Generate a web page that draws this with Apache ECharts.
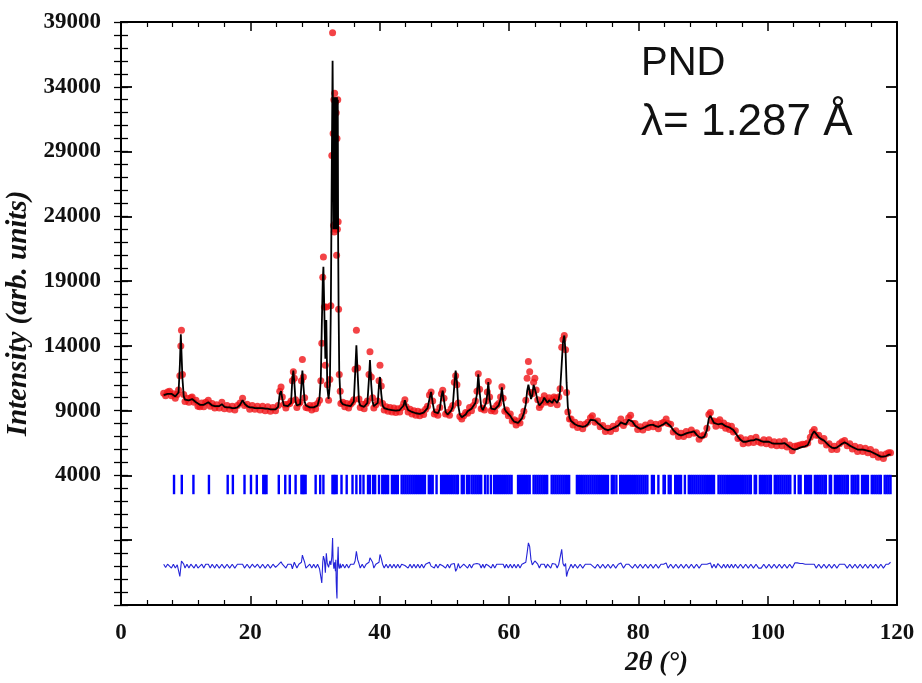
<!DOCTYPE html>
<html><head><meta charset="utf-8">
<script src="https://cdn.jsdelivr.net/npm/echarts@6/dist/echarts.min.js"></script>
<style>html,body{margin:0;padding:0;background:#fff}#c{width:922px;height:683px}</style>
</head><body><div id="c"></div>
<script>
const twoTheta = [
6.6, 6.9, 7.2, 7.5, 7.8, 8.1, 8.4, 8.7, 8.9, 9.1,
9.25, 9.35, 9.5, 9.7, 9.9, 10.2, 10.5, 10.8, 11.0, 11.3,
11.6, 11.9, 12.2, 12.5, 12.8, 13.1, 13.5, 13.8, 14.1, 14.5,
14.8, 15.2, 15.6, 16.0, 16.4, 16.8, 17.2, 17.6, 18.0, 18.4,
18.8, 19.1, 19.5, 19.9, 20.3, 20.7, 21.1, 21.5, 21.9, 22.3,
22.7, 23.1, 23.5, 23.9, 24.3, 24.55, 24.75, 24.95, 25.2, 25.5,
25.8, 26.1, 26.3, 26.5, 26.65, 26.8, 27.0, 27.2, 27.5, 27.7,
27.9, 28.05, 28.2, 28.4, 28.6, 28.9, 29.2, 29.5, 29.8, 30.1,
30.4, 30.7, 30.9, 31.05, 31.2, 31.3, 31.45, 31.6, 31.75, 31.9,
32.1, 32.3, 32.45, 32.6, 32.72, 32.8, 32.86, 32.92, 32.98, 33.04,
33.1, 33.16, 33.22, 33.28, 33.34, 33.4, 33.46, 33.52, 33.58, 33.65,
33.75, 33.9, 34.0, 34.3, 34.6, 34.9, 35.2, 35.5, 35.8, 36.0,
36.2, 36.4, 36.6, 36.8, 37.0, 37.3, 37.6, 37.9, 38.1, 38.35,
38.5, 38.7, 38.9, 39.1, 39.4, 39.7, 39.9, 40.05, 40.25, 40.45,
40.7, 41.0, 41.3, 41.6, 41.9, 42.2, 42.5, 42.8, 43.1, 43.4,
43.7, 43.9, 44.1, 44.4, 44.7, 45.0, 45.3, 45.6, 45.9, 46.2,
46.5, 46.8, 47.1, 47.4, 47.7, 47.95, 48.2, 48.45, 48.7, 49.0,
49.3, 49.55, 49.75, 49.95, 50.2, 50.5, 50.8, 51.05, 51.3, 51.55,
51.75, 51.95, 52.15, 52.4, 52.7, 53.0, 53.3, 53.6, 53.9, 54.2,
54.5, 54.8, 55.05, 55.25, 55.45, 55.7, 55.95, 56.2, 56.45, 56.65,
56.8, 57.0, 57.25, 57.5, 57.8, 58.1, 58.4, 58.7, 58.9, 59.1,
59.35, 59.6, 59.9, 60.2, 60.5, 60.8, 61.1, 61.4, 61.7, 62.0,
62.3, 62.6, 62.8, 63.0, 63.2, 63.4, 63.6, 63.8, 64.0, 64.2,
64.45, 64.7, 64.95, 65.2, 65.45, 65.7, 65.95, 66.2, 66.45, 66.7,
66.95, 67.2, 67.45, 67.7, 67.9, 68.15, 68.35, 68.55, 68.75, 68.9,
69.1, 69.35, 69.6, 69.9, 70.2, 70.6, 71.0, 71.4, 71.8, 72.2,
72.6, 72.9, 73.3, 73.7, 74.1, 74.5, 74.9, 75.3, 75.7, 76.1,
76.5, 76.9, 77.3, 77.7, 78.1, 78.5, 78.8, 79.1, 79.5, 79.9,
80.3, 80.7, 81.1, 81.5, 81.9, 82.3, 82.7, 83.1, 83.5, 83.9,
84.3, 84.6, 85.0, 85.4, 85.8, 86.2, 86.6, 87.0, 87.4, 87.8,
88.2, 88.6, 89.0, 89.4, 89.8, 90.2, 90.6, 90.9, 91.15, 91.4,
91.7, 92.0, 92.3, 92.6, 92.9, 93.2, 93.5, 93.8, 94.1, 94.4,
94.7, 95.0, 95.4, 95.8, 96.2, 96.6, 97.0, 97.4, 97.8, 98.2,
98.6, 99.0, 99.4, 99.8, 100.2, 100.6, 101.0, 101.4, 101.8, 102.2,
102.6, 103.0, 103.4, 103.8, 104.2, 104.6, 105.0, 105.4, 105.8, 106.2,
106.6, 106.9, 107.2, 107.5, 107.9, 108.3, 108.7, 109.1, 109.5, 109.9,
110.3, 110.7, 111.1, 111.5, 111.9, 112.3, 112.7, 113.1, 113.5, 113.9,
114.3, 114.7, 115.1, 115.5, 115.9, 116.3, 116.7, 117.1, 117.5, 117.9,
118.3, 118.7, 119.0
];
const yCalc = [
10200, 10250, 10300, 10350, 10300, 10150, 10100, 10150, 10400, 12500,
14900, 14800, 11500, 10100, 9850, 9800, 9800, 9850, 9900, 9800,
9650, 9500, 9450, 9450, 9450, 9500, 9650, 9500, 9400, 9350,
9300, 9350, 9500, 9300, 9250, 9250, 9200, 9200, 9250, 9450,
9800, 9550, 9350, 9250, 9250, 9200, 9200, 9200, 9200, 9150,
9150, 9100, 9100, 9100, 9300, 10300, 10500, 9900, 9400, 9350,
9350, 9400, 9600, 11500, 12100, 11200, 9700, 9400, 9400, 9500,
11000, 12100, 11000, 9700, 9400, 9350, 9250, 9200, 9250, 9300,
9400, 10000, 11500, 15500, 19000, 20100, 16500, 13000, 16000, 10800,
9900, 11000, 17000, 28000, 36000, 30000, 23000, 33200, 23000, 33200,
23000, 33200, 23000, 33200, 23000, 33200, 23000, 33000, 22000, 16800,
12000, 10300, 9700, 9500, 9450, 9400, 9350, 9350, 9500, 9700,
11800, 14050, 11800, 9700, 9400, 9350, 9300, 9400, 9600, 11500,
12900, 11000, 9700, 9350, 9300, 9600, 11000, 11600, 10300, 9400,
9200, 9150, 9100, 9100, 9050, 9050, 9000, 9000, 9050, 9100,
9400, 9800, 9400, 9050, 8950, 8900, 8850, 8800, 8800, 8750,
8750, 8850, 8950, 9200, 9900, 10450, 9600, 8900, 8750, 8800,
9100, 10100, 10550, 9800, 8900, 8700, 8800, 9000, 9300, 11000,
12100, 11200, 9400, 8700, 8500, 8450, 8700, 8950, 9100, 9150,
9250, 9600, 10300, 11800, 10500, 9300, 9050, 9200, 9600, 10300,
11200, 9900, 9150, 9000, 9100, 9250, 9400, 9900, 10800, 9800,
9100, 8900, 8750, 8600, 8350, 8150, 8050, 8050, 8200, 8400,
8800, 9500, 10500, 11000, 10500, 9900, 10200, 11000, 11100, 10300,
9700, 9400, 9300, 9700, 10000, 9800, 9600, 9800, 9700, 9600,
9900, 9800, 9600, 9900, 10500, 12600, 14300, 14800, 13500, 11200,
9300, 8500, 8200, 8050, 7950, 7850, 7800, 7750, 7800, 7950,
8300, 8450, 8250, 8050, 7900, 7700, 7550, 7500, 7550, 7650,
7750, 7850, 8100, 8000, 7950, 8300, 8450, 8150, 7850, 7700,
7600, 7650, 7750, 7850, 7900, 7900, 7800, 7750, 7850, 7950,
8100, 8150, 7800, 7500, 7300, 7150, 7100, 7150, 7250, 7300,
7350, 7400, 7150, 6950, 6900, 7000, 7500, 8400, 8600, 8350,
8050, 7950, 7950, 8050, 8000, 7900, 7800, 7700, 7700, 7650,
7500, 7300, 7000, 6750, 6600, 6600, 6650, 6700, 6700, 6800,
6750, 6650, 6600, 6600, 6600, 6500, 6450, 6450, 6450, 6450,
6500, 6350, 6200, 6050, 6000, 6050, 6150, 6200, 6250, 6350,
6800, 7200, 7400, 7250, 6950, 6800, 6700, 6500, 6300, 6150,
6100, 6150, 6300, 6450, 6550, 6450, 6300, 6200, 6100, 6000,
6000, 6000, 5950, 5900, 5850, 5750, 5650, 5550, 5450, 5450,
5500, 5600, 5600
];
const yObs = [
10350, 10150, 10450, 10500, 10150, 10300, 9950, 10250, 10600, 11700,
14000, 15200, 11800, 10250, 9700, 9950, 9650, 10000, 10050, 9650,
9800, 9350, 9300, 9600, 9300, 9650, 9800, 9350, 9550, 9200,
9450, 9200, 9650, 9150, 9400, 9100, 9350, 9050, 9400, 9600,
9950, 9400, 9500, 9100, 9400, 9100, 9350, 9050, 9350, 9000,
9300, 8950, 9250, 9000, 9400, 10500, 10830, 10050, 9500, 9200,
9500, 9550, 9750, 11300, 12000, 11500, 9850, 9250, 9550, 9650,
11300, 12950, 11600, 10000, 9250, 9200, 9400, 9050, 9400, 9150,
9550, 9800, 11300, 14200, 19300, 20870, 17000, 12500, 17000, 11000,
9800, 11400, 17100, 28700, 38170, 30400, 23300, 33000, 22800, 33500,
23000, 32800, 23500, 32000, 21000, 30000, 23000, 33000, 23575, 16830,
11800, 10500, 9550, 9650, 9300, 9550, 9200, 9500, 9650, 9850,
12200, 15200, 12300, 9900, 9250, 9500, 9150, 9550, 9750, 11800,
13540, 11600, 10000, 9200, 9450, 9750, 11300, 12500, 10900, 9550,
9050, 9300, 8950, 9250, 8900, 9200, 8850, 9150, 8900, 9250,
9550, 9850, 9300, 8900, 9100, 8750, 9000, 8650, 8950, 8600,
8900, 8700, 9100, 9350, 10200, 10450, 9750, 8750, 8900, 8650,
9250, 10300, 10580, 9950, 8750, 8850, 8650, 9150, 9400, 11200,
11700, 11000, 9600, 8550, 8350, 8600, 8850, 8800, 9250, 9000,
9400, 9750, 10500, 11850, 10650, 9150, 9200, 9050, 9750, 10450,
11250, 10050, 9000, 9150, 8950, 9400, 9550, 10050, 10850, 9950,
8950, 9050, 8600, 8750, 8200, 8300, 7900, 8200, 8050, 8550,
8950, 9800, 11500, 12800, 12000, 10400, 10300, 11200, 11500, 10600,
9850, 9250, 9450, 9850, 10150, 9650, 9750, 10000, 9550, 9800,
10050, 9950, 9450, 10050, 10700, 13900, 14500, 14800, 13700, 10400,
8900, 8350, 8350, 7900, 8100, 7700, 7950, 7600, 7950, 8100,
8450, 8600, 8100, 8200, 7750, 7850, 7400, 7650, 7400, 7800,
7600, 8000, 8350, 7850, 8100, 8450, 8650, 8000, 8000, 7550,
7750, 7500, 7900, 7700, 8050, 7750, 7950, 7600, 8000, 8100,
8350, 8000, 7950, 7350, 7450, 7000, 7250, 7000, 7400, 7150,
7500, 7250, 7300, 6800, 7050, 7150, 7650, 8700, 8850, 8200,
8200, 7800, 8150, 8300, 7850, 8050, 7650, 7850, 7550, 7800,
7350, 7450, 6850, 6900, 6450, 6750, 6500, 6850, 6550, 6950,
6600, 6500, 6750, 6450, 6750, 6350, 6600, 6300, 6600, 6300,
6650, 6200, 6350, 5900, 6250, 6300, 6350, 6400, 6400, 6500,
6950, 7350, 7550, 7100, 7100, 6650, 6850, 6350, 6450, 6000,
6250, 6000, 6450, 6600, 6700, 6300, 6450, 6050, 6250, 5850,
6150, 5850, 6100, 5750, 6000, 5600, 5800, 5400, 5600, 5300,
5650, 5750, 5750
];
const yDiff = [
-2850, -3100, -2850, -2850, -3150, -2850, -3150, -2900, -2800, -3800,
-3900, -2600, -2700, -2850, -3150, -2850, -3150, -2850, -2850, -3150,
-2850, -3150, -3150, -2850, -3150, -2850, -2850, -3150, -2850, -3150,
-2850, -3150, -2850, -3150, -2850, -3150, -2850, -3150, -2850, -2850,
-2850, -3150, -2850, -3150, -2850, -3100, -2850, -3150, -2850, -3150,
-2850, -3150, -2850, -3100, -2900, -2800, -2670, -2850, -2900, -3150,
-2850, -2850, -2850, -3200, -3100, -2700, -2850, -3150, -2850, -2850,
-2700, -2150, -2400, -2700, -3150, -3150, -2850, -3150, -2850, -3150,
-2850, -3200, -3200, -4300, -2700, -2230, -2500, -3500, -2000, -2800,
-3100, -2600, -2900, -2300, -830, -2600, -2700, -3200, -3200, -2700,
-3000, -3400, -2500, -4200, -5000, -5500, -3000, -3000, -1500, -3000,
-3200, -2800, -3150, -2850, -3150, -2850, -3150, -2850, -2850, -2850,
-2600, -1850, -2500, -2800, -3150, -2850, -3150, -2850, -2850, -2700,
-2360, -2400, -2700, -3150, -2850, -2850, -2700, -2100, -2400, -2850,
-3150, -2850, -3150, -2850, -3150, -2850, -3150, -2850, -3150, -2850,
-2850, -2950, -3100, -3150, -2850, -3150, -2850, -3150, -2850, -3150,
-2850, -3150, -2850, -2850, -2700, -3000, -2850, -3150, -2850, -3150,
-2850, -2800, -2970, -2850, -3150, -2850, -3150, -2850, -2900, -2800,
-3400, -3200, -2800, -3150, -3150, -2850, -2850, -3150, -2850, -3150,
-2850, -2850, -2800, -2950, -2850, -3150, -2850, -3150, -2850, -2850,
-2950, -2850, -3150, -2850, -3150, -2850, -2850, -2850, -2950, -2850,
-3150, -2850, -3150, -2850, -3150, -2850, -3150, -2850, -3150, -2850,
-2850, -2700, -2000, -1200, -1500, -2500, -2900, -2800, -2600, -2700,
-2850, -3150, -2850, -2850, -2850, -3150, -2850, -2800, -3150, -2800,
-2850, -2850, -3150, -2850, -2800, -1700, -2800, -3000, -2800, -3800,
-3400, -3150, -2850, -3150, -2850, -3150, -2850, -3150, -2850, -2850,
-2850, -2850, -3150, -2850, -3150, -2850, -3150, -2850, -3150, -2850,
-3150, -2850, -2750, -3150, -2850, -2850, -2800, -3150, -2850, -3150,
-2850, -3150, -2850, -3150, -2850, -3150, -2850, -3150, -2850, -2850,
-2750, -3150, -2850, -3150, -2850, -3150, -2850, -3150, -2850, -3150,
-2850, -3150, -2850, -3150, -2850, -2850, -2850, -2700, -2750, -3150,
-2850, -3150, -2800, -2750, -3150, -2850, -3150, -2850, -3150, -2850,
-3150, -2850, -3150, -2850, -3150, -2850, -3150, -2850, -3150, -2850,
-3150, -3150, -2850, -3150, -2850, -3150, -2850, -3150, -2850, -3150,
-2850, -3150, -2850, -3150, -2750, -2750, -2800, -2800, -2850, -2850,
-2850, -2850, -2850, -3150, -2850, -3150, -2850, -3150, -2850, -3150,
-2850, -3150, -2850, -2850, -2850, -3150, -2850, -3150, -2850, -3150,
-2850, -3150, -2850, -3150, -2850, -3150, -2850, -3150, -2850, -3150,
-2850, -2850, -2700
];
const braggPos = [
8.2, 9.4, 11.2, 13.6, 16.5, 17.3, 19.1, 20.1, 21.0, 22.0, 22.25, 22.5,
24.4, 25.4, 26.1, 27.0, 27.9, 28.1, 28.3, 28.55, 30.1, 30.8, 31.3,
32.7, 32.9, 33.1, 33.35, 34.1, 34.9, 35.8, 36.4, 37.0, 37.5,
38.2, 38.5, 39.0, 39.3, 39.9, 40.4, 40.7, 41.0, 41.3, 41.9, 42.2, 42.5, 42.8,
43.4, 43.7, 44.0, 44.3, 44.6, 44.9, 45.2, 45.5, 45.8, 46.1, 46.4, 46.7, 47.0,
47.6, 47.9, 48.2, 48.8, 49.5, 49.8, 50.1, 50.4, 50.7, 51.0, 51.3, 51.6, 51.9,
52.1, 52.7, 53.0, 53.5, 53.8, 54.2, 54.5, 54.8, 55.1, 55.4, 55.7, 56.3, 56.7,
57.2, 57.7, 58.0, 58.3, 58.6, 58.9, 59.2, 59.5, 59.8, 60.1, 60.4, 61.4, 61.7,
62.0, 62.3, 62.6, 62.9, 63.2, 63.8, 64.1, 64.4, 64.7, 65.0, 65.3, 65.6, 65.9,
66.6, 66.9, 67.2, 67.5, 67.8, 68.1, 68.4, 68.7, 69.0, 69.3, 70.5, 70.8, 71.1,
71.4, 71.7, 72.0, 72.3, 72.6, 72.9, 73.2, 73.5, 73.8, 74.1, 74.4, 74.7, 75.0,
75.3, 75.9, 76.2, 76.6, 77.2, 77.5, 77.8, 78.1, 78.4, 78.7, 79.0, 79.3, 79.6,
79.9, 80.2, 80.5, 80.8, 81.1, 81.4, 82.1, 82.4, 83.1, 83.9, 84.1, 84.7, 85.0,
85.7, 86.0, 86.3, 86.6, 87.2, 87.8, 88.1, 88.4, 88.7, 89.0, 89.3, 89.6, 89.9,
90.2, 90.5, 90.8, 91.1, 91.4, 91.7, 92.4, 92.7, 93.0, 93.3, 93.6, 93.9, 94.2,
94.5, 94.8, 95.1, 95.4, 95.7, 96.0, 96.3, 96.6, 96.9, 97.2, 97.4, 98.0, 98.2,
98.8, 99.1, 99.4, 99.7, 100.0, 100.3, 100.5, 101.1, 101.4, 101.7, 102.0, 102.3,
102.6, 102.9, 103.2, 103.5, 104.2, 104.8, 105.1, 105.8, 106.1, 106.4, 106.7,
107.3, 107.6, 107.9, 108.2, 108.5, 108.8, 109.0, 109.6, 109.8, 110.4, 110.7,
111.0, 111.3, 111.6, 111.9, 112.2, 112.4, 113.0, 113.3, 113.6, 113.9, 114.0,
114.6, 114.9, 115.2, 115.5, 116.1, 116.4, 116.7, 117.0, 117.3, 117.5, 118.1,
118.4, 118.7, 119.0
];
const yTickLabels = [4000, 9000, 14000, 19000, 24000, 29000, 34000, 39000];
const yMajorTicks = [-6000, -1000, 4000, 9000, 14000, 19000, 24000, 29000, 34000, 39000];
const braggLow = 2550, braggHigh = 4050;

const chart = echarts.init(document.getElementById('c'), null, {renderer: 'canvas'});
const obsData = twoTheta.map((t, i) => [t, yObs[i]]);
const calcData = twoTheta.map((t, i) => [t, yCalc[i]]);
const diffData = twoTheta.map((t, i) => [t, yDiff[i]]);
const braggData = braggPos.map(t => [t, braggLow, braggHigh]);

const serif = '"Liberation Serif", "Times New Roman", serif';
const lblStyle = {fontFamily: serif, fontWeight: 'bold', fontSize: 23, color: '#111', formatter: v => String(v)};
const lineStyle = {color: '#000', width: 2};
const yMin = -6000, yMax = 39000;

function xAx(pos, showLabel) {
  return {
    type: 'value', position: pos, min: 0, max: 120, interval: 20,
    axisLine: {show: true, onZero: false, lineStyle},
    axisTick: {show: true, inside: true, length: 9, lineStyle: {color: '#000', width: 1.5}},
    minorTick: {show: true, splitNumber: 5, length: 5, lineStyle: {color: '#000', width: 1.2}},
    axisLabel: showLabel ? Object.assign({margin: 17}, lblStyle) : {show: false},
    splitLine: {show: false}
  };
}
function yAxShort(pos) {
  return {
    type: 'value', position: pos, min: yMin, max: yMax, interval: 1000,
    axisLine: {show: false},
    axisTick: {show: true, inside: true, length: 7, lineStyle: {color: '#000', width: 1.3}},
    axisLabel: {show: false}, splitLine: {show: false}
  };
}
function yAxLong(pos, showLabel) {
  return {
    type: 'value', position: pos, min: yMin, max: yMax, interval: 1000,
    axisLine: {show: true, onZero: false, lineStyle},
    axisTick: {show: true, inside: true, length: 11, customValues: yMajorTicks, lineStyle: {color: '#000', width: 1.8}},
    axisLabel: showLabel ? Object.assign({margin: 20, customValues: yTickLabels}, lblStyle) : {show: false},
    splitLine: {show: false},
    name: showLabel ? 'Intensity (arb. units)' : '',
    nameLocation: 'middle', nameGap: 80, nameRotate: 90,
    nameTextStyle: {fontFamily: serif, fontWeight: 'bold', fontStyle: 'italic', fontSize: 29, color: '#111'}
  };
}

chart.setOption({
  animation: false,
  backgroundColor: '#fff',
  grid: {left: 121, right: 25, top: 22, bottom: 78, containLabel: false, outerBoundsMode: 'none'},
  xAxis: [xAx('bottom', true), xAx('top', false)],
  yAxis: [yAxShort('left'), yAxLong('left', true), yAxShort('right'), yAxLong('right', false)],
  graphic: [
    {type: 'text', left: 641, top: 44, style: {text: 'PND', font: '40px "Liberation Sans", sans-serif', fill: '#111'}},
    {type: 'text', left: 641, top: 101, style: {text: 'λ= 1.287 Å', font: '44px "Liberation Sans", sans-serif', fill: '#111'}},
    {type: 'text', left: 625, top: 650, style: {text: '2θ (°)', font: 'italic bold 27px "Liberation Serif", serif', fill: '#111'}}
  ],
  series: [
    {
      type: 'custom', xAxisIndex: 0, yAxisIndex: 1, data: braggData,
      encode: {x: 0, y: [1, 2]},
      renderItem: (params, api) => {
        const a = api.coord([api.value(0), api.value(1)]);
        const b = api.coord([api.value(0), api.value(2)]);
        return {type: 'line', shape: {x1: a[0], y1: a[1], x2: b[0], y2: b[1]},
          style: {stroke: '#0000ff', lineWidth: 2.4}};
      }
    },
    {
      type: 'line', xAxisIndex: 0, yAxisIndex: 1, data: diffData, showSymbol: false, symbol: 'none',
      lineStyle: {color: '#2424d8', width: 1.1}
    },
    {
      type: 'scatter', xAxisIndex: 0, yAxisIndex: 1, data: obsData, symbol: 'circle', symbolSize: 7,
      itemStyle: {color: '#f01418'}
    },
    {
      type: 'line', xAxisIndex: 0, yAxisIndex: 1, data: calcData, showSymbol: false, symbol: 'none',
      lineStyle: {color: '#000', width: 1.8}
    }
  ]
});
</script></body></html>
